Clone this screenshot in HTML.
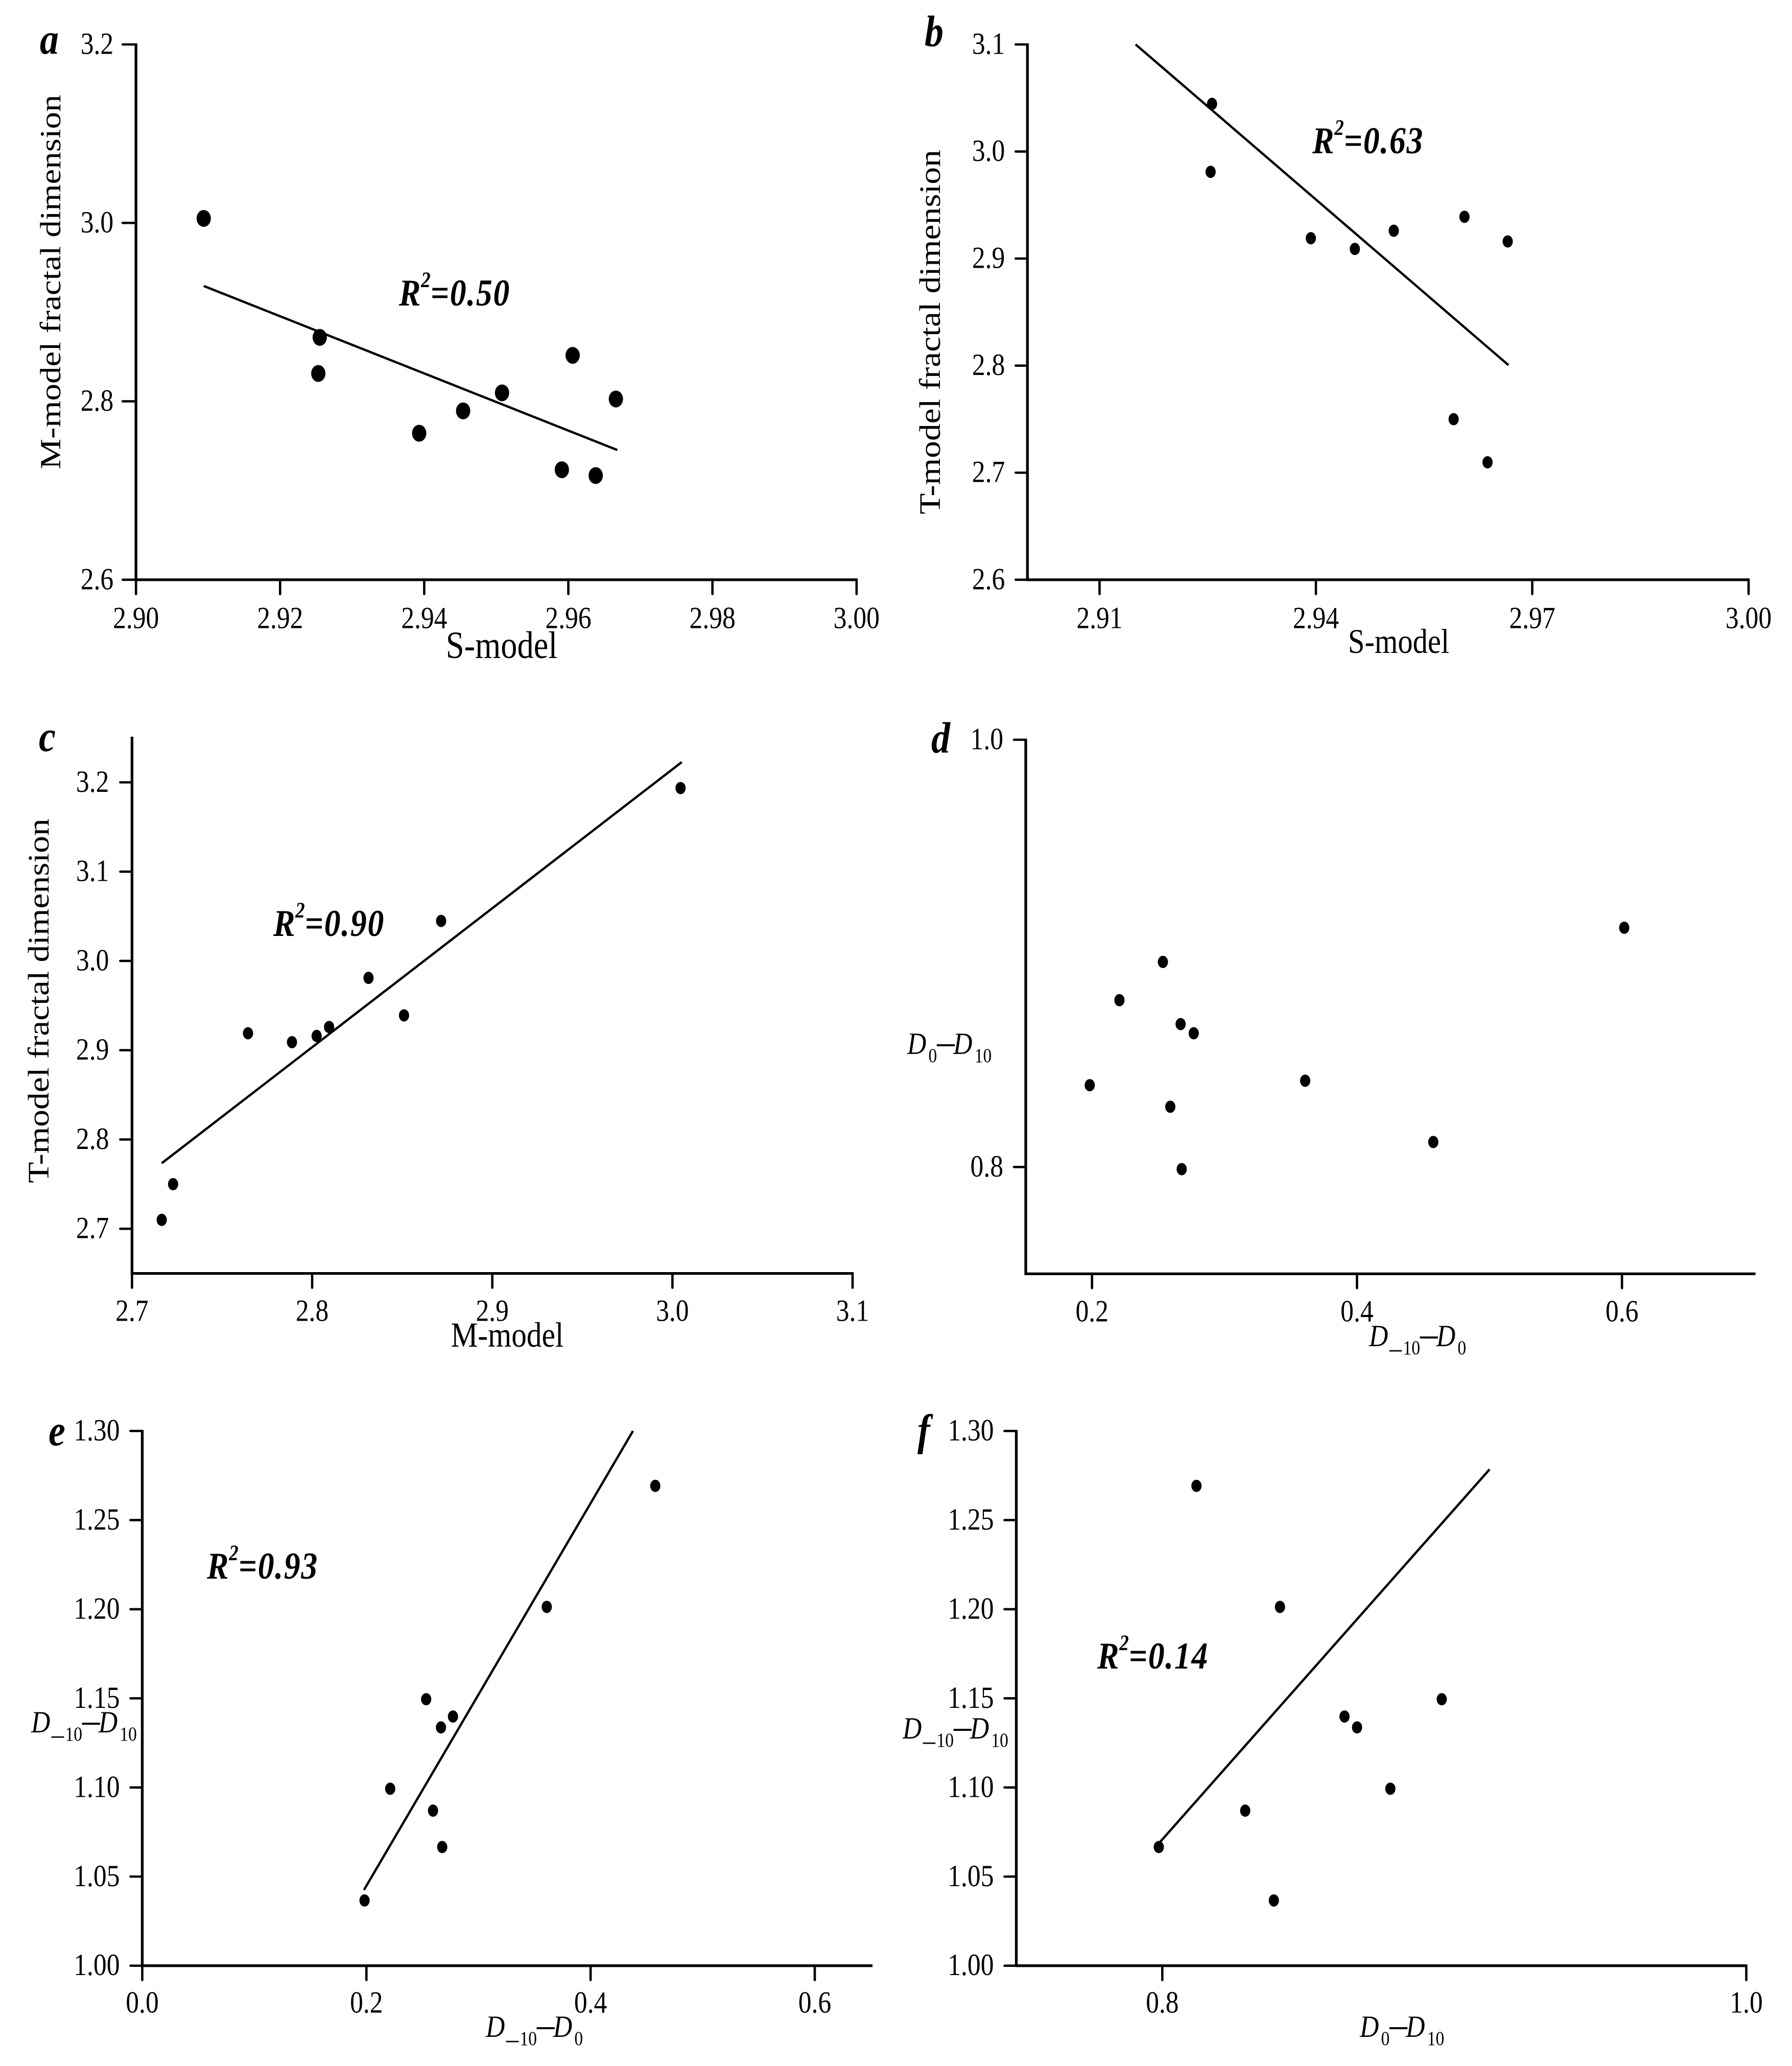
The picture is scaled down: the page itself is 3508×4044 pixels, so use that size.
<!DOCTYPE html>
<html lang="en">
<head>
<meta charset="utf-8">
<title>Fractal dimension correlation scatter plots</title>
<style>
html,body{margin:0;padding:0;background:#fff;}
svg{display:block;}
text{font-family:"Liberation Serif","Times New Roman",serif;fill:#000;}
.pl{font-weight:bold;font-style:italic;font-size:86px;}
.r2{font-weight:bold;font-style:italic;font-size:74px;}
.r2 .sup{font-size:43px;}
.r2 .rest{letter-spacing:2px;}
.title{font-size:67.5px;}
.d{font-style:italic;font-size:60px;}
.d .sub{font-size:39px;font-style:normal;}
.d .subdash{font-size:56px;font-style:normal;}
.d .dash{font-size:80px;font-style:normal;}
</style>
</head>
<body>
<svg id="figure" xmlns="http://www.w3.org/2000/svg" width="3508" height="4044" viewBox="0 0 3508 4044">
  <rect x="0" y="0" width="3508" height="4044" fill="#fff"/>
  <g id="panels"></g>

  <text class="pl" transform="translate(78,105) scale(.86,1)">a</text>
  <text class="pl" transform="translate(1810,90) scale(.86,1)">b</text>
  <text class="pl" transform="translate(76,1470) scale(.86,1)">c</text>
  <text class="pl" transform="translate(1823,1473) scale(.86,1)">d</text>
  <text class="pl" transform="translate(95,2829) scale(.86,1)">e</text>
  <text class="pl" transform="translate(1796,2828) scale(.86,1)">f</text>

  <text class="title" text-anchor="middle" style="font-size:67px" transform="translate(118,552) scale(.86,1) rotate(-90)">M-model fractal dimension</text>
  <text class="title" text-anchor="middle" style="font-size:75px" transform="translate(982,1288) scale(.86,1)">S-model</text>
  <text class="title" text-anchor="middle" transform="translate(1840,650) scale(.86,1) rotate(-90)">T-model fractal dimension</text>
  <text class="title" text-anchor="middle" style="font-size:68px" transform="translate(2738,1278) scale(.86,1)">S-model</text>
  <text class="title" text-anchor="middle" transform="translate(95,1959) scale(.86,1) rotate(-90)">T-model fractal dimension</text>
  <text class="title" text-anchor="middle" style="font-size:69px" transform="translate(993,2636) scale(.86,1)">M-model</text>

  <text class="r2" transform="translate(781,598) scale(.86,1)">R<tspan class="sup" dx="1" dy="-36">2</tspan><tspan class="rest" dy="36">=0.50</tspan></text>
  <text class="r2" transform="translate(2569,300) scale(.86,1)">R<tspan class="sup" dx="1" dy="-36">2</tspan><tspan class="rest" dy="36">=0.63</tspan></text>
  <text class="r2" transform="translate(535,1832) scale(.86,1)">R<tspan class="sup" dx="1" dy="-36">2</tspan><tspan class="rest" dy="36">=0.90</tspan></text>
  <text class="r2" transform="translate(405,3090) scale(.86,1)">R<tspan class="sup" dx="1" dy="-36">2</tspan><tspan class="rest" dy="36">=0.93</tspan></text>
  <text class="r2" transform="translate(2148,3266) scale(.86,1)">R<tspan class="sup" dx="1" dy="-36">2</tspan><tspan class="rest" dy="36">=0.14</tspan></text>

  <text class="d" transform="translate(2680,2635) scale(.86,1)">D<tspan class="subdash" dx="3" dy="22">–</tspan><tspan class="sub" dx="3" dy="-6">10</tspan><tspan class="dash" dy="-14">–</tspan><tspan dx="-3" dy="-2">D</tspan><tspan class="sub" dx="5" dy="16">0</tspan></text>
  <text class="d" transform="translate(1776,2063) scale(.86,1)">D<tspan class="sub" dx="5" dy="16">0</tspan><tspan class="dash" dy="-14">–</tspan><tspan dx="-3" dy="-2">D</tspan><tspan class="sub" dx="5" dy="16">10</tspan></text>
  <text class="d" transform="translate(951,3987) scale(.86,1)">D<tspan class="subdash" dx="3" dy="22">–</tspan><tspan class="sub" dx="3" dy="-6">10</tspan><tspan class="dash" dy="-14">–</tspan><tspan dx="-3" dy="-2">D</tspan><tspan class="sub" dx="5" dy="16">0</tspan></text>
  <text class="d" transform="translate(61,3391) scale(.86,1)">D<tspan class="subdash" dx="3" dy="22">–</tspan><tspan class="sub" dx="3" dy="-6">10</tspan><tspan class="dash" dy="-14">–</tspan><tspan dx="-3" dy="-2">D</tspan><tspan class="sub" dx="5" dy="16">10</tspan></text>
  <text class="d" transform="translate(2662,3987) scale(.86,1)">D<tspan class="sub" dx="5" dy="16">0</tspan><tspan class="dash" dy="-14">–</tspan><tspan dx="-3" dy="-2">D</tspan><tspan class="sub" dx="5" dy="16">10</tspan></text>
  <text class="d" transform="translate(1767,3403) scale(.86,1)">D<tspan class="subdash" dx="3" dy="22">–</tspan><tspan class="sub" dx="3" dy="-6">10</tspan><tspan class="dash" dy="-14">–</tspan><tspan dx="-3" dy="-2">D</tspan><tspan class="sub" dx="5" dy="16">10</tspan></text>
</svg>

<script>
// Panel a: S-model vs M-model
var aXValues = [2.9094, 2.9255, 2.9253, 2.9393, 2.9454, 2.9508, 2.9591, 2.9606, 2.9638, 2.9666];
var aYValues = [3.005, 2.8717, 2.8312, 2.7642, 2.7893, 2.8095, 2.7233, 2.8515, 2.7168, 2.8026];
var aFitX = [2.9094, 2.9668];
var aFitY = [2.9293, 2.7454];
var aXTicks = ["2.90", "2.92", "2.94", "2.96", "2.98", "3.00"];
var aYTicks = ["2.6", "2.8", "3.0", "3.2"];

// Panel b: S-model vs T-model
var bXValues = [2.9256, 2.9254, 2.9393, 2.9454, 2.9508, 2.9591, 2.9606, 2.9638, 2.9666];
var bYValues = [3.0445, 2.981, 2.919, 2.909, 2.926, 2.75, 2.939, 2.7097, 2.916];
var bFitX = [2.915, 2.9667];
var bFitY = [3.1, 2.8005];
var bXTicks = ["2.91", "2.94", "2.97", "3.00"];
var bYTicks = ["2.6", "2.7", "2.8", "2.9", "3.0", "3.1"];

// Panel c: M-model vs T-model
var cXValues = [3.0045, 2.8716, 2.8313, 2.7644, 2.7888, 2.8094, 2.7228, 2.851, 2.7165, 2.8025];
var cYValues = [3.1936, 3.0448, 2.981, 2.919, 2.909, 2.926, 2.75, 2.939, 2.71, 2.916];
var cFitX = [2.7165, 3.0052];
var cFitY = [2.7734, 3.2227];
var cXTicks = ["2.7", "2.8", "2.9", "3.0", "3.1"];
var cYTicks = ["2.7", "2.8", "2.9", "3.0", "3.1", "3.2"];

// Panel d: D-10-D0 vs D0-D10
var dXValues = [0.1983, 0.2207, 0.2535, 0.2669, 0.2768, 0.2591, 0.2677, 0.3609, 0.4576, 0.6017];
var dYValues = [0.8383, 0.8781, 0.896, 0.8669, 0.8626, 0.8282, 0.799, 0.8404, 0.8117, 0.912];
var dXTicks = ["0.2", "0.4", "0.6"];
var dYTicks = ["0.8", "1.0"];

// Panel e: D-10-D0 vs D-10-D10
var eXValues = [0.1983, 0.2212, 0.2533, 0.2665, 0.2772, 0.2594, 0.2676, 0.3609, 0.4577];
var eYValues = [1.0366, 1.0993, 1.1495, 1.1337, 1.1398, 1.087, 1.0666, 1.2013, 1.2692];
var eFitX = [0.1978, 0.4378];
var eFitY = [1.0425, 1.3];
var eXTicks = ["0.0", "0.2", "0.4", "0.6"];
var eYTicks = ["1.00", "1.05", "1.10", "1.15", "1.20", "1.25", "1.30"];

// Panel f: D0-D10 vs D-10-D10
var fXValues = [0.7988, 0.8117, 0.8284, 0.8382, 0.8403, 0.8624, 0.8667, 0.8781, 0.8957];
var fYValues = [1.0666, 1.2692, 1.087, 1.0366, 1.2013, 1.1398, 1.1337, 1.0993, 1.1495];
var fFitX = [0.7988, 0.9121];
var fFitY = [1.0686, 1.2785];
var fXTicks = ["0.8", "1.0"];
var fYTicks = ["1.00", "1.05", "1.10", "1.15", "1.20", "1.25", "1.30"];

var SVG_NS = "http://www.w3.org/2000/svg";
var root = document.getElementById("panels");

function line(parent, x1, y1, x2, y2, width, cap) {
  var el = document.createElementNS(SVG_NS, "line");
  el.setAttribute("x1", x1);
  el.setAttribute("y1", y1);
  el.setAttribute("x2", x2);
  el.setAttribute("y2", y2);
  el.setAttribute("stroke", "#000");
  el.setAttribute("stroke-width", width);
  el.setAttribute("stroke-linecap", cap);
  parent.appendChild(el);
  return el;
}

function label(parent, x, y, anchor, str) {
  var el = document.createElementNS(SVG_NS, "text");
  el.setAttribute("transform", "translate(" + x + "," + y + ") scale(.86,1)");
  el.setAttribute("text-anchor", anchor);
  el.setAttribute("font-size", "60");
  el.textContent = str;
  parent.appendChild(el);
  return el;
}

function linear(d0, d1, r0, r1) {
  return function (v) { return r0 + (v - d0) / (d1 - d0) * (r1 - r0); };
}

function drawPanel(p, xValues, yValues, fitX, fitY, xTicks, yTicks) {
  var sx = linear(p.xDomain[0], p.xDomain[1], p.xRange[0], p.xRange[1]);
  var sy = linear(p.yDomain[0], p.yDomain[1], p.yRange[0], p.yRange[1]);
  var g = document.createElementNS(SVG_NS, "g");
  
  
  root.appendChild(g);

  var yAxis = line(g, p.xRange[0], p.yRange[0] + 2.6, p.xRange[0], p.yRange[1] - 2, 5.3, "butt");
  
  
  var xAxis = line(g, p.xRange[0], p.yRange[0], p.xRange[1] + 2, p.yRange[0], 5.3, "butt");
  
  

  xTicks.forEach(function (t) {
    var x = sx(parseFloat(t));
    var tick = line(g, x, p.yRange[0], x, p.yRange[0] + 28, 4.6, "round");
    
    
    var txt = label(g, x, p.yRange[0] + p.xLabelOffset, "middle", t);
    
    
  });

  yTicks.forEach(function (t) {
    var y = sy(parseFloat(t));
    var tick = line(g, p.xRange[0] - p.yTickLen, y, p.xRange[0], y, 4.6, "round");
    
    
    var txt = label(g, p.xRange[0] - p.yLabelGap, y + 18.5, "end", t);
    
    
  });

  if (fitX && fitY) {
    var fit = line(g, sx(fitX[0]), sy(fitY[0]), sx(fitX[1]), sy(fitY[1]), 4.5, "butt");
    
    
  }

  xValues.forEach(function (v, i) {
    var c = document.createElementNS(SVG_NS, "ellipse");
    c.setAttribute("cx", sx(v));
    c.setAttribute("cy", sy(yValues[i]));
    c.setAttribute("rx", p.rx);
    c.setAttribute("ry", p.ry);
    c.setAttribute("fill", "#000");
    
    
    g.appendChild(c);
  });
}

drawPanel({id:"a", xDomain:[2.90,3.00], xRange:[266.2,1676.8], yDomain:[2.6,3.2], yRange:[1134.8,87], xLabelOffset:94.5, yTickLen:26, yLabelGap:44, rx:14, ry:16.5}, aXValues, aYValues, aFitX, aFitY, aXTicks, aYTicks);
drawPanel({id:"b", xDomain:[2.90,3.00], xRange:[2011.3,3423], yDomain:[2.6,3.1], yRange:[1134.8,87], xLabelOffset:94.5, yTickLen:23, yLabelGap:44, rx:10, ry:12}, bXValues, bYValues, bFitX, bFitY, bXTicks, bYTicks);
drawPanel({id:"c", xDomain:[2.7,3.1], xRange:[258.4,1669], yDomain:[2.65,3.25], yRange:[2492.6,1444], xLabelOffset:93, yTickLen:23, yLabelGap:45, rx:10, ry:12}, cXValues, cYValues, cFitX, cFitY, cXTicks, cYTicks);
drawPanel({id:"d", xDomain:[0.15,0.7], xRange:[2008,3434.5], yDomain:[0.75,1.0], yRange:[2493.4,1448], xLabelOffset:93, yTickLen:23, yLabelGap:44, rx:10, ry:12}, dXValues, dYValues, null, null, dXTicks, dYTicks);
drawPanel({id:"e", xDomain:[0,0.6506], xRange:[278.5,1706], yDomain:[1,1.3], yRange:[3847.7,2801], xLabelOffset:92, yTickLen:23, yLabelGap:44, rx:10, ry:12}, eXValues, eYValues, eFitX, eFitY, eXTicks, eYTicks);
drawPanel({id:"f", xDomain:[0.75,1.0], xRange:[1989.5,3418.5], yDomain:[1,1.3], yRange:[3847.7,2801], xLabelOffset:92, yTickLen:23, yLabelGap:44, rx:10, ry:12}, fXValues, fYValues, fFitX, fFitY, fXTicks, fYTicks);
</script>
</body>
</html>
